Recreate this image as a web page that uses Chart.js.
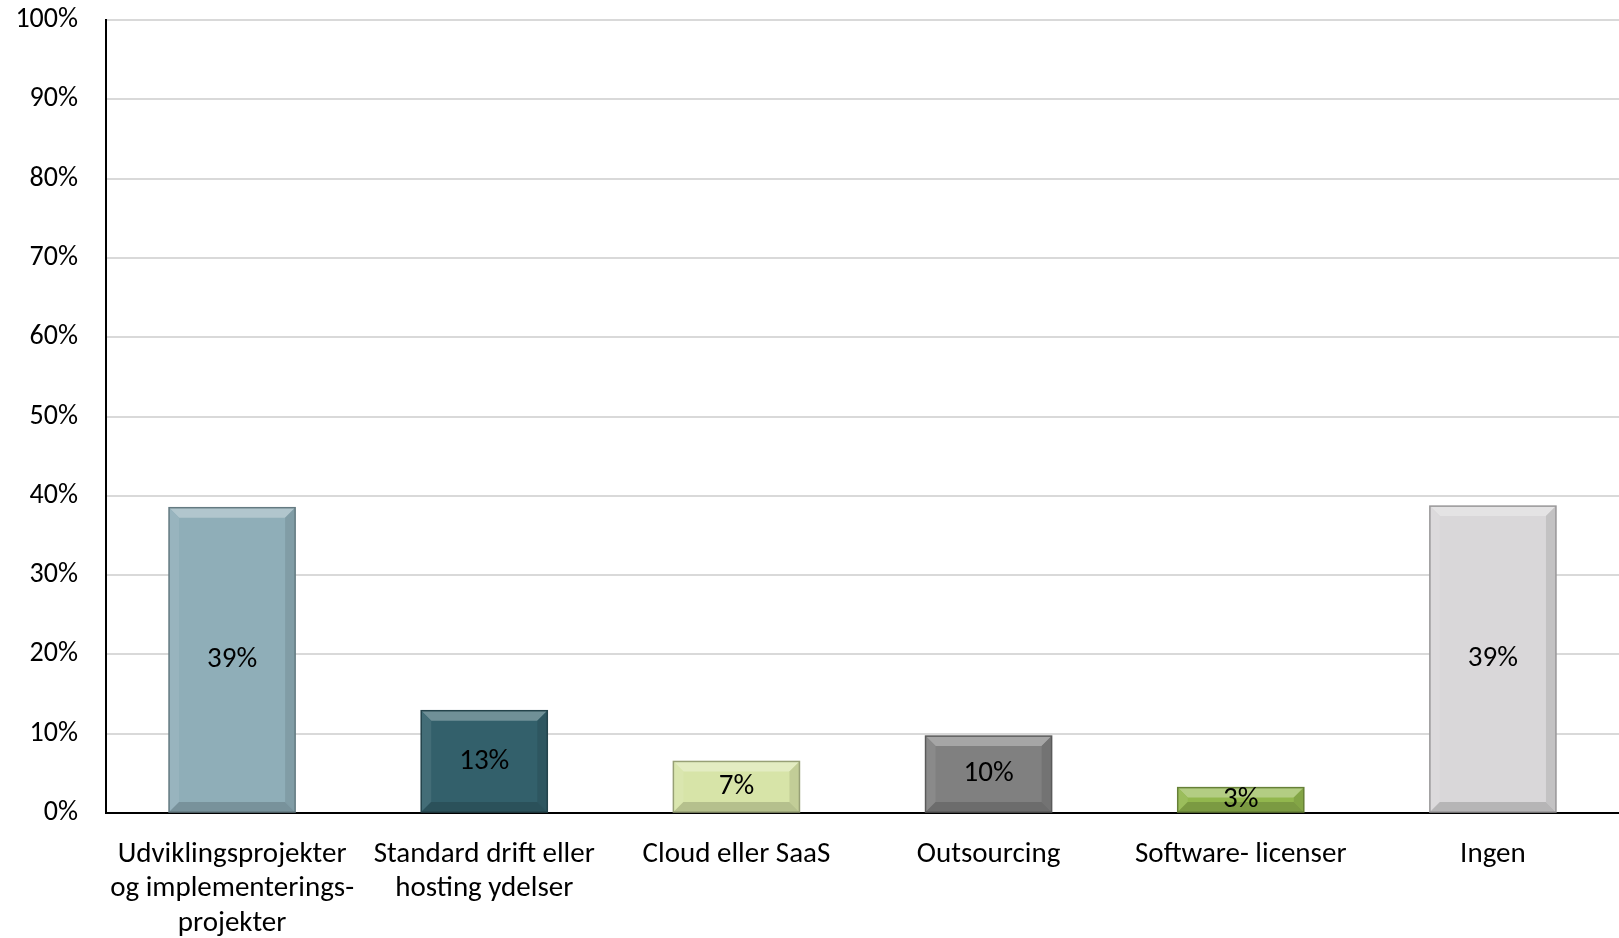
<!DOCTYPE html>
<html>
<head>
<meta charset="utf-8">
<script src="https://cdn.jsdelivr.net/npm/chart.js@4/dist/chart.umd.min.js"></script>
<style>
  html, body { margin: 0; padding: 0; background: #fff; }
  #wrap { width: 1619px; height: 938px; }
</style>
</head>
<body>
<div id="wrap"><canvas id="grafik"></canvas></div>
<script>
const kategoriler = [
  ['Udviklingsprojekter', 'og implementerings-', 'projekter'],
  ['Standard drift eller', 'hosting ydelser'],
  'Cloud eller SaaS',
  'Outsourcing',
  'Software- licenser',
  'Ingen'
];
const andele = [38.5, 12.9, 6.5, 9.7, 3.2, 38.7];
const etiketter = ['39%', '13%', '7%', '10%', '3%', '39%'];
const farver = ['#8FAEB8', '#33606B', '#D7E4A8', '#808080', '#92B74E', '#D9D7D9'];

const fontNavn = 'Carlito, Lato, "Open Sans", sans-serif';

// lys/mørk variant af en farve til kant-effekten
function skygge(hex, f) {
  const n = parseInt(hex.slice(1), 16);
  let r = (n >> 16) & 255, g = (n >> 8) & 255, b = n & 255;
  if (f > 0) {
    r += (255 - r) * f; g += (255 - g) * f; b += (255 - b) * f;
  } else {
    r *= (1 + f); g *= (1 + f); b *= (1 + f);
  }
  return `rgb(${Math.round(r)},${Math.round(g)},${Math.round(b)})`;
}

const bevelPlugin = {
  id: 'bevel',
  afterDatasetsDraw(chart) {
    const ctx = chart.ctx;
    const meta = chart.getDatasetMeta(0);
    meta.data.forEach((bar, i) => {
      const { x, y, base, width } = bar.getProps(['x', 'y', 'base', 'width'], true);
      const l = x - width / 2, r = x + width / 2, t = y, b = base;
      const s = Math.min(10, (b - t) / 2);
      const c = farver[i];
      ctx.save();
      // top
      ctx.fillStyle = skygge(c, 0.3);
      ctx.beginPath(); ctx.moveTo(l, t); ctx.lineTo(r, t); ctx.lineTo(r - s, t + s); ctx.lineTo(l + s, t + s); ctx.closePath(); ctx.fill();
      // venstre
      ctx.fillStyle = skygge(c, 0.08);
      ctx.beginPath(); ctx.moveTo(l, t); ctx.lineTo(l + s, t + s); ctx.lineTo(l + s, b - s); ctx.lineTo(l, b); ctx.closePath(); ctx.fill();
      // højre
      ctx.fillStyle = skygge(c, -0.1);
      ctx.beginPath(); ctx.moveTo(r, t); ctx.lineTo(r, b); ctx.lineTo(r - s, b - s); ctx.lineTo(r - s, t + s); ctx.closePath(); ctx.fill();
      // bund
      ctx.fillStyle = skygge(c, -0.16);
      ctx.beginPath(); ctx.moveTo(l, b); ctx.lineTo(r, b); ctx.lineTo(r - s, b - s); ctx.lineTo(l + s, b - s); ctx.closePath(); ctx.fill();
      ctx.strokeStyle = skygge(c, -0.3);
      ctx.lineWidth = 1.5;
      ctx.strokeRect(l, t, width, b - t);
      ctx.restore();
    });
    // værdietiketter midt i søjlen
    ctx.save();
    ctx.font = '29px ' + fontNavn;
    ctx.fillStyle = '#000';
    ctx.textAlign = 'center';
    ctx.textBaseline = 'middle';
    meta.data.forEach((bar, i) => {
      const { x, y, base } = bar.getProps(['x', 'y', 'base'], true);
      ctx.fillText(etiketter[i], x, (y + base) / 2);
    });
    ctx.restore();
  }
};

new Chart(document.getElementById('grafik').getContext('2d'), {
  type: 'bar',
  data: {
    labels: kategoriler,
    datasets: [{
      data: andele,
      backgroundColor: farver,
      borderWidth: 0,
      barPercentage: 0.5,
      categoryPercentage: 1
    }]
  },
  options: {
    responsive: true,
    maintainAspectRatio: false,
    animation: false,
    layout: { padding: { top: 20, right: 0, left: 0, bottom: 0 } },
    plugins: {
      legend: { display: false },
      tooltip: { enabled: false }
    },
    scales: {
      x: {
        grid: { display: false, drawTicks: false },
        border: { display: true, color: '#000', width: 2 },
        ticks: {
          color: '#000',
          padding: 24,
          maxRotation: 0,
          autoSkip: false,
          font: { family: fontNavn, size: 29, lineHeight: 1.2 }
        },
        afterFit(scale) { scale.height = 125; scale.paddingLeft = 0; scale.paddingRight = 0; }
      },
      y: {
        min: 0,
        max: 100,
        grid: { color: '#D9D9D9', lineWidth: 2, drawTicks: false },
        border: { display: true, color: '#000', width: 2 },
        ticks: {
          stepSize: 10,
          color: '#000',
          padding: 28,
          font: { family: fontNavn, size: 28 },
          callback: v => v + '%'
        },
        afterFit(scale) { scale.width = 106; scale.paddingTop = 0; scale.paddingBottom = 0; }
      }
    }
  },
  plugins: [bevelPlugin]
});
</script>
</body>
</html>
